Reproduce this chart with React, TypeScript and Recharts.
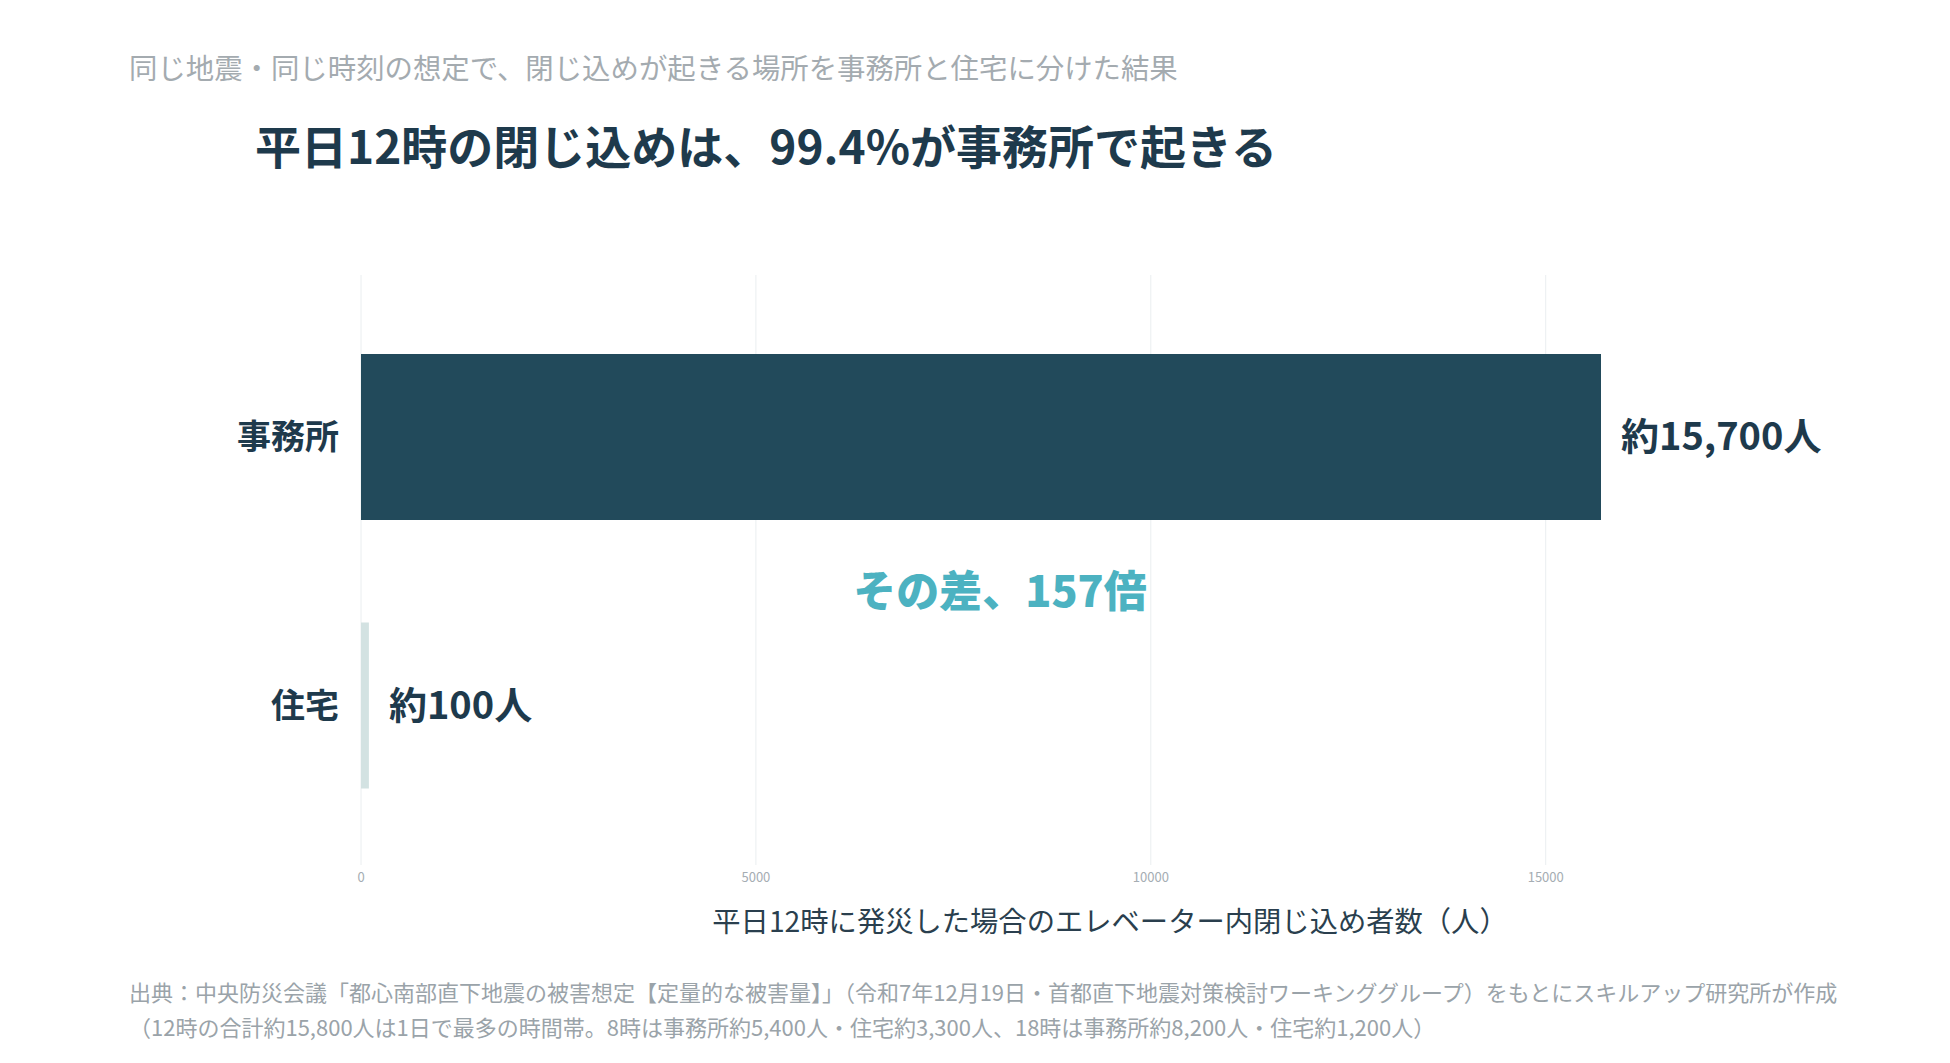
import { BarChart, Bar, XAxis, YAxis, CartesianGrid, Cell, LabelList } from "recharts";

// 平日12時に発災した場合のエレベーター内閉じ込め者数
const categories = ["事務所", "住宅"];
const values = [15700, 100];
const valueLabels = ["約15,700人", "約100人"];
const xTicks = [0, 5000, 10000, 15000];

const BAR_COLORS = ["#224a5b", "#d3e2e2"];
const INK = "#1e3a4c";
const FONT = "'Noto Sans CJK JP', 'Noto Sans', sans-serif";

const data = categories.map((name, i) => ({
  name,
  value: values[i],
  label: valueLabels[i],
}));

function App() {
  return (
    <div
      style={{
        position: "absolute",
        left: 0,
        top: 0,
        width: 1950,
        height: 1063,
        background: "#fff",
        fontFamily: FONT,
      }}
    >
      {/* subtitle */}
      <div
        style={{
          position: "absolute",
          left: 129,
          top: 47,
          fontSize: 28.4,
          lineHeight: "40px",
          color: "#a4abb0",
          whiteSpace: "nowrap",
        }}
      >
        同じ地震・同じ時刻の想定で、閉じ込めが起きる場所を事務所と住宅に分けた結果
      </div>

      {/* title */}
      <div
        style={{
          position: "absolute",
          left: 255,
          top: 114,
          fontSize: 46,
          fontWeight: 700,
          lineHeight: "60px",
          color: INK,
          whiteSpace: "nowrap",
        }}
      >
        平日12時の閉じ込めは、99.4%が事務所で起きる
      </div>

      <BarChart
        width={1950}
        height={1063}
        data={data}
        layout="vertical"
        margin={{ top: 275, right: 101, left: 161, bottom: 118 }}
      >
        <CartesianGrid horizontal={false} verticalValues={xTicks} stroke="#eaeef0" />
        <XAxis
          type="number"
          domain={[0, 18840]}
          ticks={xTicks}
          axisLine={false}
          tickLine={false}
          tickSize={0}
          tickMargin={8}
          height={80}
          tick={{ fill: "#a5adb3", fontSize: 13 }}
          label={{
            value: "平日12時に発災した場合のエレベーター内閉じ込め者数（人）",
            position: "insideBottom",
            offset: 13,
            dx: 5,
            fill: "#2a3f4e",
            fontSize: 28.3,
          }}
        />
        <YAxis
          type="category"
          dataKey="name"
          width={200}
          axisLine={false}
          tickLine={false}
          tickSize={0}
          tickMargin={22}
          padding={{ top: 28, bottom: 25 }}
          tick={{ fill: INK, fontSize: 34, fontWeight: 700 }}
        />
        <Bar dataKey="value" barSize={166} isAnimationActive={false}>
          {data.map((_, i) => (
            <Cell key={`cell-${i}`} fill={BAR_COLORS[i]} />
          ))}
          <LabelList
            dataKey="label"
            position="right"
            offset={20}
            fill={INK}
            fontSize={38}
            fontWeight={700}
          />
        </Bar>
      </BarChart>

      {/* annotation */}
      <div
        style={{
          position: "absolute",
          left: 700,
          top: 558,
          width: 600,
          textAlign: "center",
          fontSize: 43,
          fontWeight: 800,
          lineHeight: "60px",
          color: "#4cb2c1",
          whiteSpace: "nowrap",
        }}
      >
        その差、157倍
      </div>

      {/* source */}
      <div
        style={{
          position: "absolute",
          left: 129,
          top: 974,
          fontSize: 22,
          lineHeight: "35px",
          color: "#9aa3a9",
          whiteSpace: "nowrap",
        }}
      >
        <div>
          出典：中央防災会議「都心南部直下地震の被害想定【定量的な被害量】」（令和7年12月19日・首都直下地震対策検討ワーキンググループ）をもとにスキルアップ研究所が作成
        </div>
        <div>
          （12時の合計約15,800人は1日で最多の時間帯。8時は事務所約5,400人・住宅約3,300人、18時は事務所約8,200人・住宅約1,200人）
        </div>
      </div>
    </div>
  );
}

export default App;
